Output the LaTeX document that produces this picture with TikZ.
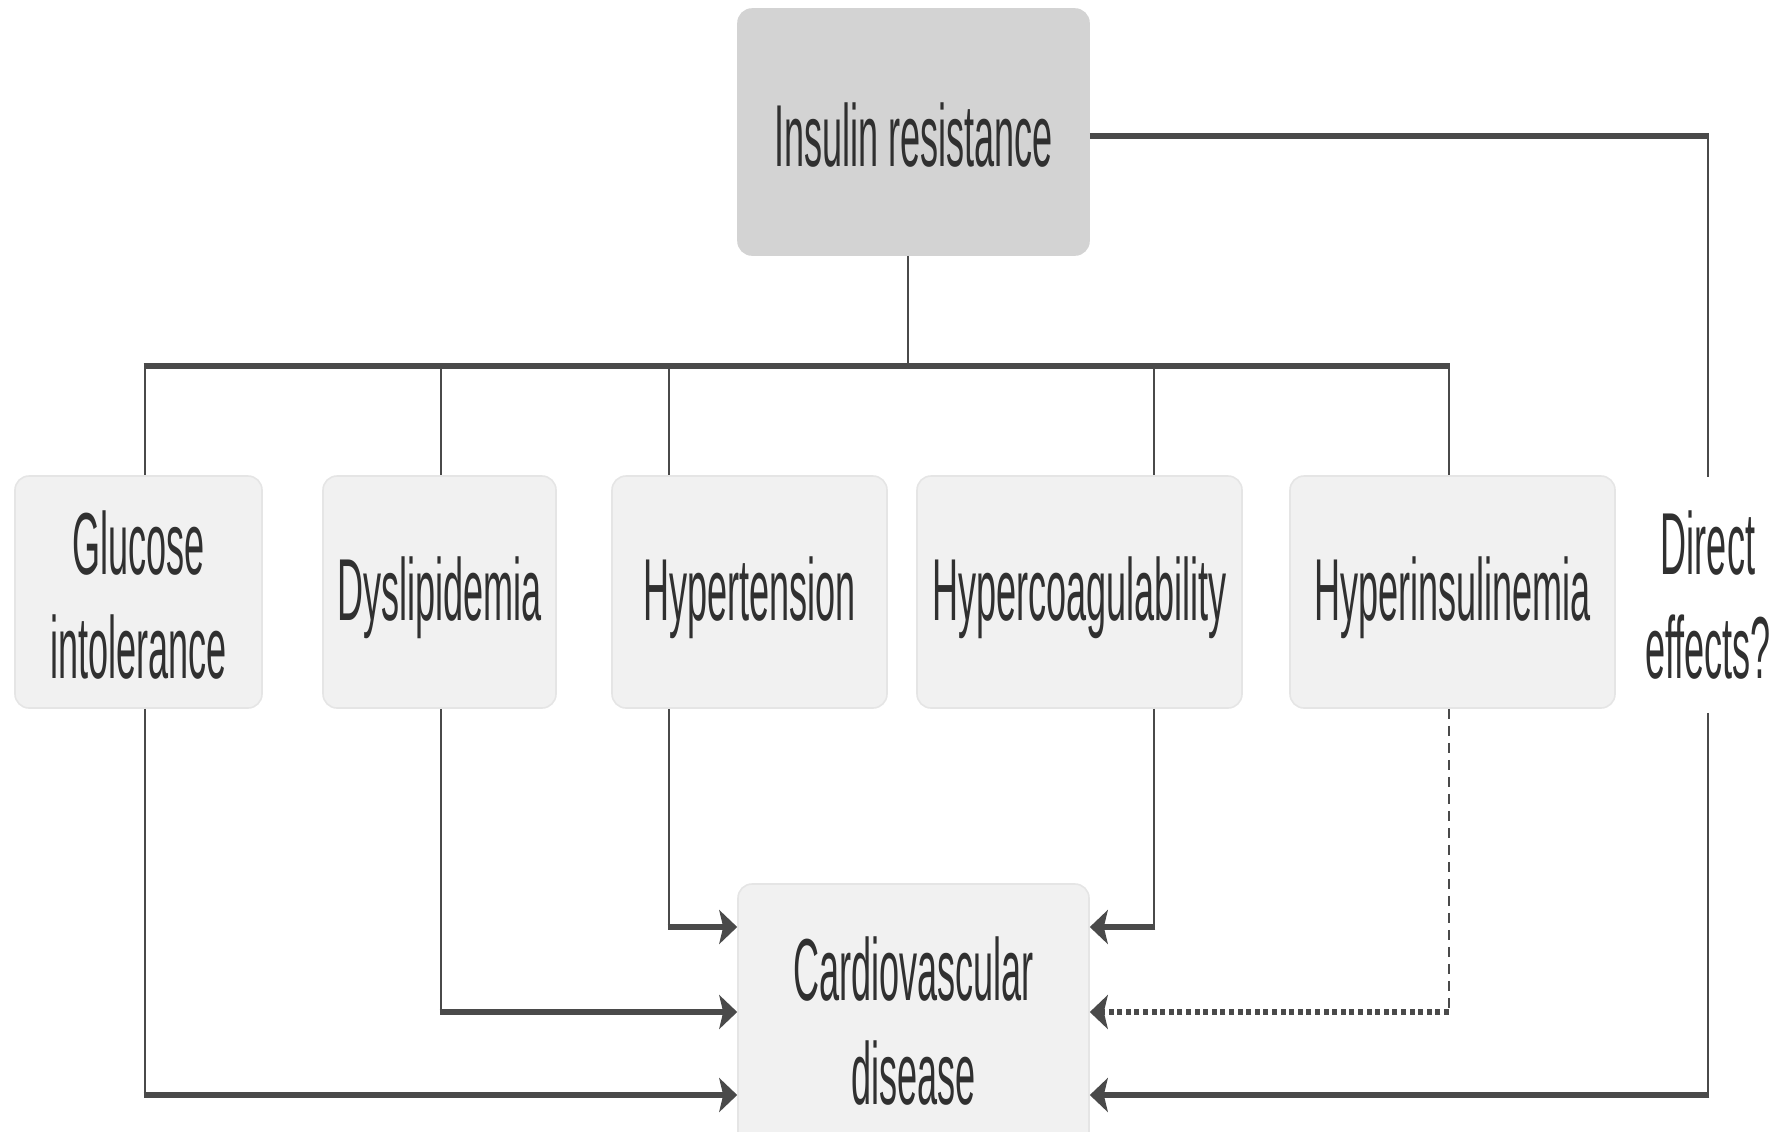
\documentclass[tikz,border=0pt]{standalone}
\usepackage{fontspec}
\setmainfont[FakeStretch=0.41]{Liberation Sans}
\usetikzlibrary{arrows.meta,calc}
\definecolor{ln}{HTML}{4A4A4A}
\definecolor{tx}{HTML}{303030}
\definecolor{bx}{HTML}{F1F1F1}
\definecolor{bxe}{HTML}{E5E5E5}
\definecolor{irf}{HTML}{D3D3D3}
\newcommand{\lowtxt}[2]{\raisebox{-#1}[\height][\depth]{#2}}
\begin{document}
\begin{tikzpicture}[x=0.5pt,y=-0.5pt,
  box/.style={rectangle, rounded corners=7pt, fill=bx, draw=bxe, line width=0.8pt,
    inner sep=0pt, align=center, font=\fontsize{44}{52}\selectfont, text=tx},
  plain/.style={rectangle, inner sep=0pt, align=center, font=\fontsize{44}{52}\selectfont, text=tx},
  vline/.style={draw=ln, line width=1.3pt},
  hline/.style={draw=ln, line width=2.8pt, shorten <=-0.65pt},
  busline/.style={draw=ln, line width=2.8pt, shorten <=-0.65pt, shorten >=-0.65pt},
  tip/.style={-{Stealth[length=9pt,width=17pt,inset=2pt]}},
  vdots/.style={draw=ln, line width=1.3pt, dash pattern=on 5pt off 3.5pt},
  hdots/.style={draw=ln, line width=2.8pt, dash pattern=on 2.5pt off 1.8pt}
]
\useasboundingbox (0,0) rectangle (1786,1131);
\clip (0,0) rectangle (1786,1131);

% nodes
\node[box, fill=irf, draw=irf, minimum width=175.5pt, minimum height=123pt] (ir) at (913.5,132) {\lowtxt{1.5pt}{Insulin resistance}};
\node[box, minimum width=123.5pt, minimum height=116pt] (glu) at (138.5,592) {\lowtxt{1.5pt}{Glucose}\\\lowtxt{1.5pt}{intolerance}};
\node[box, minimum width=116.5pt, minimum height=116pt] (dys) at (439.5,592) {\lowtxt{3pt}{Dyslipidemia}};
\node[box, minimum width=137.5pt, minimum height=116pt] (hyt) at (749.5,592) {\lowtxt{3pt}{Hypertension}};
\node[box, minimum width=162.5pt, minimum height=116pt] (hyc) at (1079.5,592) {\lowtxt{3pt}{Hypercoagulability}};
\node[box, minimum width=162.5pt, minimum height=116pt] (hyi) at (1452.5,592) {\lowtxt{3pt}{Hyperinsulinemia}};
\node[plain, minimum width=50pt, minimum height=117.5pt] (de) at (1708,595) {Direct\\effects?};
\node[box, minimum width=175.5pt, minimum height=137pt] (cvd) at (913.5,1021) {Cardiovascular\\disease};

% helper coordinates
\coordinate (irb) at ([xshift=-2.75pt]ir.south);
\coordinate (bus) at (908,366);
\coordinate (gt) at ([xshift=3.25pt]glu.north);
\coordinate (dt) at ([xshift=0.75pt]dys.north);
\coordinate (tt) at ([xshift=-40.25pt]hyt.north);
\coordinate (ct) at ([xshift=37.25pt]hyc.north);
\coordinate (it) at ([xshift=-1.75pt]hyi.north);
\coordinate (gb) at ([xshift=3.25pt]glu.south);
\coordinate (db) at ([xshift=0.75pt]dys.south);
\coordinate (tb) at ([xshift=-40.25pt]hyt.south);
\coordinate (cb) at ([xshift=37.25pt]hyc.south);
\coordinate (ib) at ([xshift=-1.75pt]hyi.south);
\coordinate (rowA) at (0,927);
\coordinate (rowB) at (0,1012);
\coordinate (rowC) at (0,1095);
\coordinate (irr) at ([yshift=-2pt]ir.east);

% insulin resistance to bus
\draw[vline] (irb) -- (bus);
\draw[busline] (gt |- bus) -- (it |- bus);
\draw[vline] (gt |- bus) -- (gt);
\draw[vline] (dt |- bus) -- (dt);
\draw[vline] (tt |- bus) -- (tt);
\draw[vline] (ct |- bus) -- (ct);
\draw[vline] (it |- bus) -- (it);

% direct effects
\draw[draw=ln, line width=2.8pt, shorten >=-0.65pt] (irr) -- (irr -| de.north);
\draw[vline] (irr -| de.north) -- (de.north);
\draw[vline] (de.south) -- (de.south |- rowC);
\draw[hline, tip] (de.south |- rowC) -- (cvd.east |- rowC);

% to cardiovascular disease
\draw[vline] (gb) -- (gb |- rowC);
\draw[hline, tip] (gb |- rowC) -- (cvd.west |- rowC);
\draw[vline] (db) -- (db |- rowB);
\draw[hline, tip] (db |- rowB) -- (cvd.west |- rowB);
\draw[vline] (tb) -- (tb |- rowA);
\draw[hline, tip] (tb |- rowA) -- (cvd.west |- rowA);
\draw[vline] (cb) -- (cb |- rowA);
\draw[hline, tip] (cb |- rowA) -- (cvd.east |- rowA);
\draw[vdots] (ib) -- (ib |- rowB);
\draw[hdots, tip] (ib |- rowB) -- (cvd.east |- rowB);
\end{tikzpicture}
\end{document}
